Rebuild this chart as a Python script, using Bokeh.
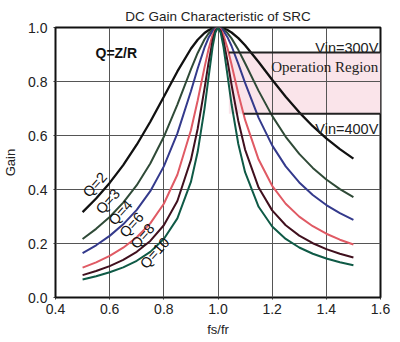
from bokeh.plotting import figure
from bokeh.models import FixedTicker
from bokeh.core.properties import value
from bokeh.embed import file_html
from bokeh.resources import INLINE

# ---- data ----
fs_fr = [0.50, 0.55, 0.60, 0.65, 0.70, 0.75, 0.80, 0.85, 0.90, 0.925, 0.95, 0.965,
         0.98, 0.99, 1.00, 1.01, 1.02, 1.035, 1.05, 1.075, 1.10, 1.15, 1.20, 1.25,
         1.30, 1.35, 1.40, 1.45, 1.50]

gain_q2 = [0.3162, 0.3668, 0.4244, 0.4904, 0.5658, 0.6508, 0.7433, 0.8373, 0.9213, 0.9546,
           0.9796, 0.9900, 0.9968, 0.9992, 1.0, 0.9992, 0.9969, 0.9907, 0.9815, 0.9606,
           0.9342, 0.8722, 0.8064, 0.7433, 0.6857, 0.6344, 0.5892, 0.5494, 0.5145]
gain_q3 = [0.2169, 0.2542, 0.2983, 0.3513, 0.4160, 0.4961, 0.5952, 0.7144, 0.8448, 0.9056,
           0.9557, 0.9779, 0.9927, 0.9982, 1.0, 0.9982, 0.9930, 0.9793, 0.9597, 0.9172,
           0.8678, 0.7652, 0.6727, 0.5952, 0.5318, 0.4800, 0.4372, 0.4015, 0.3714]
gain_q4 = [0.1644, 0.1934, 0.2282, 0.2709, 0.3246, 0.3939, 0.4856, 0.6080, 0.7640, 0.8483,
           0.9251, 0.9617, 0.9872, 0.9968, 1.0, 0.9968, 0.9877, 0.9641, 0.9315, 0.8654,
           0.7948, 0.6654, 0.5633, 0.4856, 0.4261, 0.3796, 0.3425, 0.3123, 0.2873]
gain_q6 = [0.1104, 0.1303, 0.1544, 0.1844, 0.2230, 0.2747, 0.3473, 0.4547, 0.6196, 0.7299,
           0.8515, 0.9195, 0.9718, 0.9928, 1.0, 0.9930, 0.9729, 0.9243, 0.8629, 0.7550,
           0.6577, 0.5109, 0.4138, 0.3473, 0.2996, 0.2639, 0.2362, 0.2141, 0.1961]
gain_q8 = [0.0830, 0.0981, 0.1164, 0.1393, 0.1691, 0.2095, 0.2676, 0.3576, 0.5095, 0.6251,
           0.7729, 0.8687, 0.9515, 0.9873, 1.0, 0.9876, 0.9533, 0.8760, 0.7881, 0.6535,
           0.5478, 0.4071, 0.3227, 0.2676, 0.2292, 0.2010, 0.1793, 0.1622, 0.1483]
gain_q10 = [0.0665, 0.0786, 0.0933, 0.1118, 0.1360, 0.1690, 0.2169, 0.2929, 0.4281, 0.5395,
            0.6979, 0.8143, 0.9272, 0.9804, 1.0, 0.9808, 0.9297, 0.8238, 0.7156, 0.5684,
            0.4640, 0.3359, 0.2631, 0.2169, 0.1851, 0.1620, 0.1443, 0.1304, 0.1191]

series_names = ["Q=2", "Q=3", "Q=4", "Q=6", "Q=8", "Q=10"]
series_values = [gain_q2, gain_q3, gain_q4, gain_q6, gain_q8, gain_q10]
series_colors = ["#111111", "#2f4a37", "#343a8c", "#e05a64", "#40101e", "#0f5a46"]

# label positions along curves (data coords)
label_x = [0.545, 0.593, 0.640, 0.681, 0.721, 0.766]
label_y = [0.418, 0.356, 0.315, 0.269, 0.228, 0.165]

# operation region
region_left = [1.04]
region_right = [1.6]
vin300 = 0.907
vin400 = 0.681
vin400_left = 1.095

x_ticks = [0.4, 0.6, 0.8, 1.0, 1.2, 1.4, 1.6]
x_tick_labels = ["0.4", "0.6", "0.8", "1.0", "1.2", "1.4", "1.6"]
y_ticks = [0.0, 0.2, 0.4, 0.6, 0.8, 1.0]
y_tick_labels = ["0.0", "0.2", "0.4", "0.6", "0.8", "1.0"]

SANS = "Liberation Sans"

p = figure(width=400, height=342, x_range=(0.4, 1.6), y_range=(0.0, 1.0),
           output_backend="svg", toolbar_location=None,
           min_border_left=54, min_border_right=20, min_border_bottom=45, min_border_top=27)

p.title.text = "DC Gain Characteristic of SRC"
p.title.align = "center"
p.title.text_font = SANS
p.title.text_font_size = "13.5px"
p.title.text_font_style = "normal"
p.title.text_color = "#222222"
p.title.standoff = 8

p.outline_line_color = "#111111"
p.outline_line_width = 2
p.background_fill_color = "white"
p.border_fill_color = "white"

for ax in (p.xaxis, p.yaxis):
    ax.axis_line_color = None
    ax.major_tick_in = 0
    ax.major_tick_out = 2
    ax.major_tick_line_color = "#333333"
    ax.minor_tick_line_color = None
    ax.major_label_text_font = SANS
    ax.major_label_text_font_size = "14px"
    ax.major_label_text_color = "#222222"
    ax.axis_label_text_font = SANS
    ax.axis_label_text_font_size = "13px"
    ax.axis_label_text_font_style = "normal"
    ax.axis_label_text_color = "#222222"

p.xaxis.ticker = FixedTicker(ticks=x_ticks)
p.xaxis.major_label_overrides = dict(zip(x_ticks, x_tick_labels))
p.yaxis.ticker = FixedTicker(ticks=y_ticks)
p.yaxis.major_label_overrides = dict(zip(y_ticks, y_tick_labels))
p.xaxis.axis_label = "fs/fr"
p.yaxis.axis_label = "Gain"
p.xaxis.major_label_standoff = 4
p.yaxis.major_label_standoff = 6
p.xaxis.axis_label_standoff = 5
p.yaxis.axis_label_standoff = 7

p.xgrid.ticker = FixedTicker(ticks=x_ticks)
p.ygrid.ticker = FixedTicker(ticks=y_ticks)
p.grid.grid_line_color = "#555555"
p.grid.grid_line_width = 1

# operation region (under the grid)
p.quad(left=region_left, right=region_right, bottom=[vin400], top=[vin300],
       fill_color="#fae4ea", line_color=None, level="image")

# curves
for name, vals, col in zip(series_names, series_values, series_colors):
    p.line(fs_fr, vals, line_color=col, line_width=2.3 if name == "Q=2" else 2)

# Vin lines
p.segment(x0=[region_left[0], vin400_left], y0=[vin300, vin400],
          x1=[region_right[0], region_right[0]], y1=[vin300, vin400],
          line_color="#222222", line_width=2)

# texts
p.text(x=label_x, y=label_y, text=series_names, angle=0.84,
       text_font=value(SANS), text_font_size="14.5px", text_color="#111111",
       text_align="center", text_baseline="middle")

p.text(x=[0.6245], y=[0.906], text=["Q=Z/R"], text_font=value(SANS),
       text_font_size="14px", text_font_style="bold", text_color="#111111",
       text_align="center", text_baseline="middle")

p.text(x=[1.592, 1.592], y=[0.924, 0.624], text=["Vin=300V", "Vin=400V"],
       text_font=value(SANS), text_font_size="14.5px", text_color="#222222",
       text_align="right", text_baseline="alphabetic")

p.text(x=[1.592], y=[0.852], text=["Operation Region"],
       text_font=value("Liberation Serif"), text_font_size="15px", text_color="#222222",
       text_align="right", text_baseline="alphabetic")

open("out.html", "w").write(file_html(p, INLINE))
